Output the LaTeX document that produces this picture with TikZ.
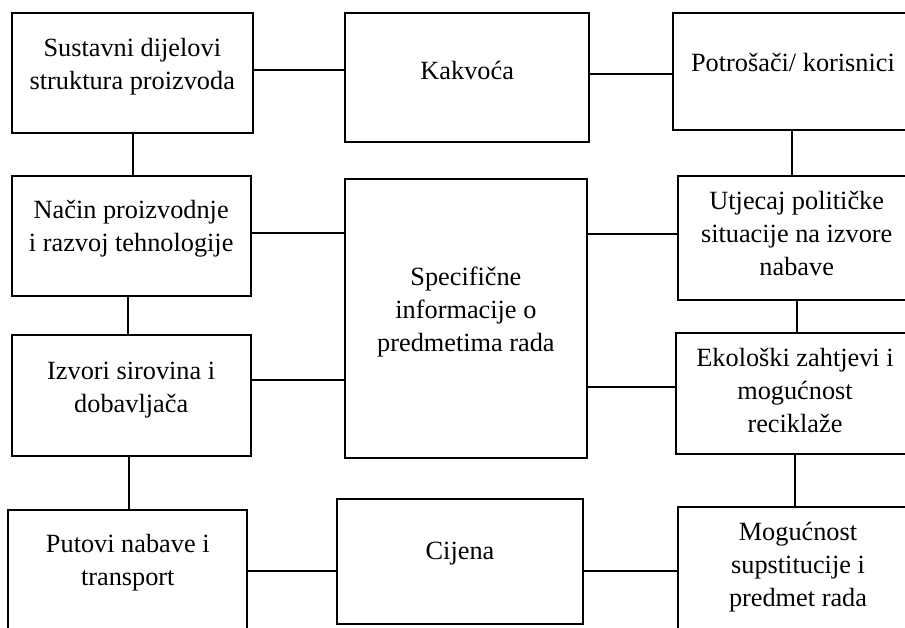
\documentclass[tikz,border=0pt]{standalone}
\usepackage{fontspec}
\setmainfont{Liberation Serif}
\newcommand{\bxt}[4]{\parbox[c][#2pt][t]{#1pt}{\centering\rule{0pt}{#3pt}#4}}
\begin{document}
\begin{tikzpicture}[x=1pt,y=-1pt,
  font=\fontsize{26.3}{33}\selectfont,
  blk/.style={draw=black,line width=2pt,inner sep=0pt,fill=white},
  con/.style={draw=black,line width=2pt}]
\useasboundingbox (0,0) rectangle (905,628);
% boxes
\node[blk] (A)  at (132.3,73.2)  {\bxt{241.3}{119.7}{42.7}{Sustavni dijelovi\\struktura proizvoda}};
\node[blk] (K)  at (467.2,77.7)  {\bxt{244.3}{128.7}{65.7}{Kakvoća}};
\node[blk] (P)  at (793,71.7)    {\bxt{240.6}{116.7}{58.4}{Potrošači/ korisnici}};
\node[blk] (N)  at (131.2,235.9) {\bxt{239}{119.7}{42.3}{Način proizvodnje\\i razvoj tehnologije}};
\node[blk] (S)  at (465.9,318.7) {\bxt{241.7}{279.3}{106}{Specifične\\informacije o\\predmetima rada}};
\node[blk] (U)  at (796.7,237.9) {\bxt{238}{124.3}{33.6}{Utjecaj političke\\situacije na izvore\\nabave}};
\node[blk] (I)  at (131.2,395.4) {\bxt{239}{120.7}{44.3}{Izvori sirovina i\\dobavljača}};
\node[blk] (E)  at (795,393.8)   {\bxt{238.6}{121}{33.4}{Ekološki zahtjevi i\\mogućnost\\reciklaže}};
\node[blk] (Pu) at (127.8,571)   {\bxt{239}{122}{42.7}{Putovi nabave i\\transport}};
\node[blk] (C)  at (460,561.5)   {\bxt{246.6}{125}{60.3}{Cijena}};
\node[blk] (M)  at (798,569.7)   {\bxt{240.6}{124.7}{32.7}{Mogućnost\\supstitucije i\\predmet rada}};
% connectors
\draw[con] (A.east |- 0,70) -- (K.west |- 0,70);
\draw[con] (K.east |- 0,74) -- (P.west |- 0,74);
\draw[con] (A.south -| 133,0) -- (N.north -| 133,0);
\draw[con] (P.south -| 792.3,0) -- (U.north -| 792.3,0);
\draw[con] (N.east |- 0,233) -- (S.west |- 0,233);
\draw[con] (S.east |- 0,234.3) -- (U.west |- 0,234.3);
\draw[con] (N.south -| 128,0) -- (I.north -| 128,0);
\draw[con] (U.south -| 796.7,0) -- (E.north -| 796.7,0);
\draw[con] (I.east |- 0,380) -- (S.west |- 0,380);
\draw[con] (S.east |- 0,386.7) -- (E.west |- 0,386.7);
\draw[con] (I.south -| 129,0) -- (Pu.north -| 129,0);
\draw[con] (E.south -| 795,0) -- (M.north -| 795,0);
\draw[con] (Pu.east |- 0,570.7) -- (C.west |- 0,570.7);
\draw[con] (C.east |- 0,570.7) -- (M.west |- 0,570.7);
\end{tikzpicture}
\end{document}
